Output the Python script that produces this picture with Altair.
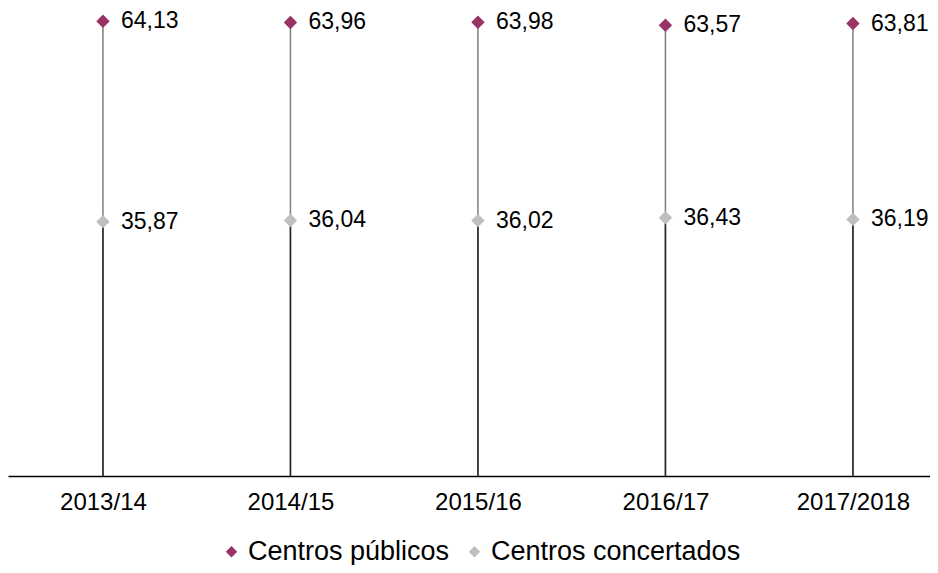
import altair as alt
import pandas as pd

years = ["2013/14", "2014/15", "2015/16", "2016/17", "2017/2018"]
publicos = [64.13, 63.96, 63.98, 63.57, 63.81]
concertados = [35.87, 36.04, 36.02, 36.43, 36.19]
series = ["Centros públicos", "Centros concertados"]
colors = ["#993366", "#bfbfbf"]

rows = []
for y, p, c in zip(years, publicos, concertados):
    rows.append({"year": y, "serie": series[0], "value": p, "label": f"{p:.2f}".replace(".", ",")})
    rows.append({"year": y, "serie": series[1], "value": c, "label": f"{c:.2f}".replace(".", ",")})
df = pd.DataFrame(rows)

font = "Liberation Sans"

x = alt.X("year:N", sort=years, title=None,
          scale=alt.Scale(type="point", padding=0.4587, align=0.552, round=False),
          axis=alt.Axis(labelAngle=0, labelFontSize=24, labelColor="#000000", labelFont=font,
                        ticks=False, domainColor="#000000", domainWidth=1.5, labelPadding=14,
                        grid=False))
yscale = alt.Scale(domain=[0, 66], nice=False)
y = alt.Y("value:Q", scale=yscale, axis=None)

base = alt.Chart(df)

rule_top = base.transform_filter(alt.datum.serie == series[0]).mark_rule(
    color="#7f7f7f", strokeWidth=1.5).encode(x=x, y=y, y2=alt.Y2(datum=0))
rule_low = base.transform_filter(alt.datum.serie == series[1]).mark_rule(
    color="#262626", strokeWidth=1.5).encode(x=x, y=y, y2=alt.Y2(datum=0))

points = base.mark_point(shape="diamond", filled=True, size=180, opacity=1).encode(
    x=x, y=y,
    color=alt.Color("serie:N", sort=series,
                    scale=alt.Scale(domain=series, range=colors),
                    legend=alt.Legend(title=None, orient="none", direction="horizontal",
                                      legendX=210, legendY=530, labelFontSize=27,
                                      labelFont=font, labelColor="#000000", labelLimit=0,
                                      symbolSize=130, symbolType="diamond",
                                      columnPadding=11, labelOffset=3)))

labels = base.mark_text(align="left", baseline="middle", dx=18, fontSize=23,
                        font=font, color="#000000").encode(x=x, y=y, text="label:N")

chart = alt.layer(rule_top, rule_low, points, labels).properties(
    width=922, height=468,
    padding={"left": 0, "top": 0, "right": 0, "bottom": 89},
    autosize=alt.AutoSizeParams(type="none")
).configure_view(stroke=None)

chart.save("out.html", embed_options={"renderer": "svg", "actions": False})
